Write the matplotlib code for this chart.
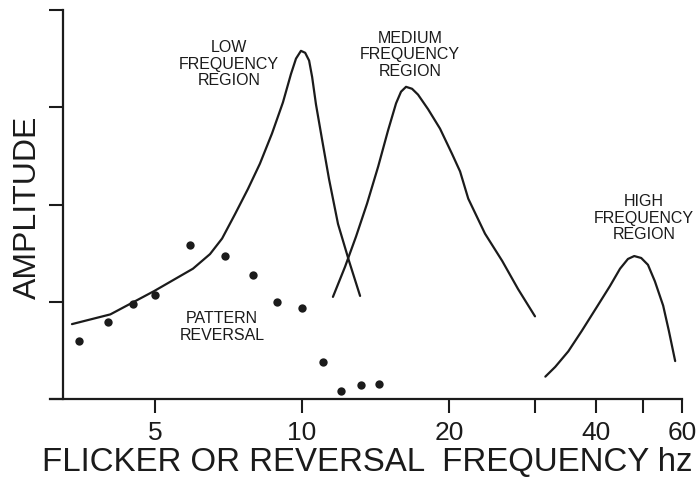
import numpy as np
import matplotlib.pyplot as plt
from matplotlib.ticker import FixedLocator, FixedFormatter, NullLocator

plt.rcParams['font.family'] = ['Liberation Sans', 'DejaVu Sans']
INK = '#1b1b1b'

# pattern reversal responses (frequency hz, amplitude)
rev_freq = [3.5, 4.0, 4.5, 5.0, 5.9, 6.95, 7.95, 8.9, 10.0, 11.05, 12.0, 13.2, 14.4]
rev_amp = [0.60, 0.79, 0.98, 1.07, 1.58, 1.47, 1.27, 1.00, 0.94, 0.38, 0.08, 0.14, 0.155]

# low frequency region curve
low_freq = [3.38, 4.05, 4.98, 5.98, 6.48, 6.86, 7.29, 7.75, 8.20, 8.68, 9.14, 9.49,
            9.72, 9.95, 10.15, 10.34, 10.49, 10.68, 10.99, 11.36, 11.85, 12.48, 13.15]
low_amp = [0.77, 0.87, 1.11, 1.34, 1.49, 1.65, 1.90, 2.16, 2.42, 2.73, 3.05, 3.34,
           3.50, 3.58, 3.56, 3.48, 3.31, 3.03, 2.67, 2.26, 1.80, 1.42, 1.06]

# medium frequency region curve
med_freq = [11.57, 12.25, 12.90, 13.59, 14.32, 15.0, 15.58, 15.95, 16.33, 16.80, 17.28,
            18.12, 19.17, 20.29, 21.07, 21.9, 23.7, 25.7, 27.7, 30.0]
med_amp = [1.05, 1.36, 1.67, 2.01, 2.39, 2.76, 3.04, 3.16, 3.21, 3.19, 3.13,
           2.98, 2.78, 2.52, 2.34, 2.06, 1.70, 1.42, 1.13, 0.85]

# high frequency region curve
high_freq = [31.5, 33.0, 35.1, 37.4, 40.2, 42.7, 44.8, 46.5, 47.9, 49.5, 51.1, 52.8,
             54.9, 56.4, 58.1]
high_amp = [0.23, 0.33, 0.49, 0.70, 0.95, 1.16, 1.34, 1.44, 1.47, 1.45, 1.38, 1.21,
            0.96, 0.70, 0.39]

xticks = [5, 10, 20, 30, 40, 50, 60]
xticklabels = ['5', '10', '20', '', '40', '', '60']
yticks = [0, 1, 2, 3, 4]

fig = plt.figure(figsize=(6.99, 4.81), dpi=100)
ax = fig.add_axes([63 / 699, 1 - 400 / 481, 619 / 699, 389 / 481])

for fx, fy in [(low_freq, low_amp), (med_freq, med_amp), (high_freq, high_amp)]:
    ax.plot(fx, fy, color=INK, lw=1.6, solid_joinstyle='round', solid_capstyle='round')
ax.plot(rev_freq, rev_amp, 'o', color=INK, ms=6, mec='none')

ax.set_xscale('log')
ax.set_xlim(3.24, 60)
ax.set_ylim(0, 4)
ax.xaxis.set_major_locator(FixedLocator(xticks))
ax.xaxis.set_major_formatter(FixedFormatter(xticklabels))
ax.xaxis.set_minor_locator(NullLocator())
ax.set_yticks(yticks)
ax.set_yticklabels([])

for side in ['top', 'right']:
    ax.spines[side].set_visible(False)
for side in ['left', 'bottom']:
    ax.spines[side].set_linewidth(1.6)
    ax.spines[side].set_color(INK)
ax.spines['bottom'].set_bounds(3.05, 60)

ax.tick_params(axis='x', direction='out', length=10, width=1.5, color=INK,
               labelsize=19, pad=5, labelcolor=INK)
ax.tick_params(axis='y', direction='out', length=10, width=1.5, color=INK)

fig.text(367 / 699, 1 - 463 / 481, 'FLICKER OR REVERSAL  FREQUENCY hz',
         ha='center', va='center', fontsize=23.8, color=INK)
fig.text(28 / 699, 1 - 207 / 481, 'AMPLITUDE', rotation=90,
         ha='center', va='center', fontsize=23, color=INK)

note = dict(ha='center', va='center', fontsize=11.5, color=INK, linespacing=1.15)
fig.text(229 / 699, 1 - 64 / 481, 'LOW\nFREQUENCY\nREGION', **note)
fig.text(410 / 699, 1 - 55 / 481, 'MEDIUM\nFREQUENCY\nREGION', **note)
fig.text(644 / 699, 1 - 218 / 481, 'HIGH\nFREQUENCY\nREGION', **note)
fig.text(222 / 699, 1 - 327 / 481, 'PATTERN\nREVERSAL', **note)

fig.savefig('out.png', dpi=100, facecolor='white')
